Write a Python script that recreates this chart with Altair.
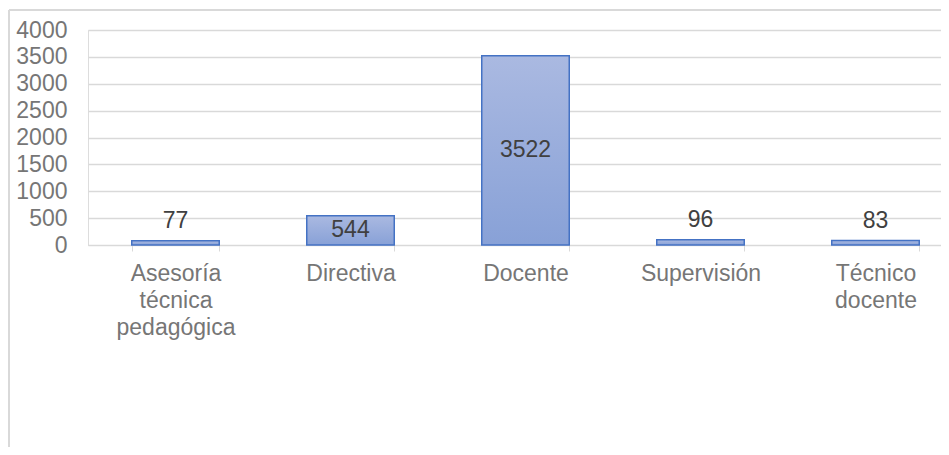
import altair as alt
import pandas as pd

categories = ["Asesoría técnica pedagógica", "Directiva", "Docente", "Supervisión", "Técnico docente"]
values = [77, 544, 3522, 96, 83]
y_ticks = [0, 500, 1000, 1500, 2000, 2500, 3000, 3500, 4000]

df = pd.DataFrame({"cat": categories, "val": values})
df["half"] = df["val"] / 2
df["inside"] = df["val"] >= 500

W = 853
H = 215
PAD_L, PAD_T, PAD_B = 80, 22, 202
FONT = "Liberation Sans"
FS = 23

xscale = alt.Scale(range=[0, 875], paddingInner=0.5, paddingOuter=0.25)
yscale = alt.Scale(domain=[0, 4000], nice=False)

xaxis = alt.Axis(
    title=None,
    labelAngle=0,
    labelExpr="split(datum.label, ' ')",
    labelLineHeight=27,
    labelFontSize=FS,
    labelFont=FONT,
    labelColor="#767676",
    labelPadding=11,
    domainColor="#d9d9d9",
    tickColor="#d9d9d9",
    tickSize=6,
    tickBand="extent",
    grid=False,
    labelBaseline="top",
)
yaxis = alt.Axis(
    title=None,
    values=y_ticks,
    format="d",
    labelOverlap=False,
    domain=False,
    ticks=False,
    labelPadding=21,
    labelFontSize=FS,
    labelFont=FONT,
    labelColor="#767676",
    gridColor="#d9d9d9",
    gridWidth=1.5,
)

def xenc():
    return alt.X("cat:N", sort=categories, scale=xscale, axis=xaxis)

def yenc(field):
    return alt.Y(field, type="quantitative", scale=yscale, axis=yaxis)

base = alt.Chart(df)

bars = base.mark_bar(
    color=alt.Gradient(
        gradient="linear",
        stops=[alt.GradientStop(color="#aab9e1", offset=0), alt.GradientStop(color="#88a1d7", offset=1)],
        x1=0, x2=0, y1=0, y2=1,
    ),
    stroke="#4472c4",
    strokeWidth=1.5,
).encode(x=xenc(), y=yenc("val"))

lab_in = base.transform_filter("datum.inside").mark_text(
    font=FONT, fontSize=FS, color="#404040", baseline="middle"
).encode(x=xenc(), y=yenc("half"), text="val:Q")

lab_out = base.transform_filter("!datum.inside").mark_text(
    font=FONT, fontSize=FS, color="#404040", baseline="alphabetic", dy=-13
).encode(x=xenc(), y=yenc("val"), text="val:Q")

frame_top = base.mark_rule(color="#d9d9d9", strokeWidth=1.5).encode(
    x=alt.value(-79), x2=alt.value(W), y=alt.value(-20)
)
frame_left = base.mark_rule(color="#d9d9d9", strokeWidth=1.5).encode(
    x=alt.value(-79), y=alt.value(-20), y2=alt.value(H + PAD_B)
)

chart = alt.layer(bars, lab_in, lab_out, frame_top, frame_left).properties(
    width=W,
    height=H,
    autosize=alt.AutoSizeParams(type="none"),
    padding={"left": PAD_L, "top": PAD_T, "right": 0, "bottom": PAD_B},
).configure_view(strokeWidth=0, stroke="transparent").configure(background="white")

chart.save("out.html", embed_options={"renderer": "svg", "actions": False})
